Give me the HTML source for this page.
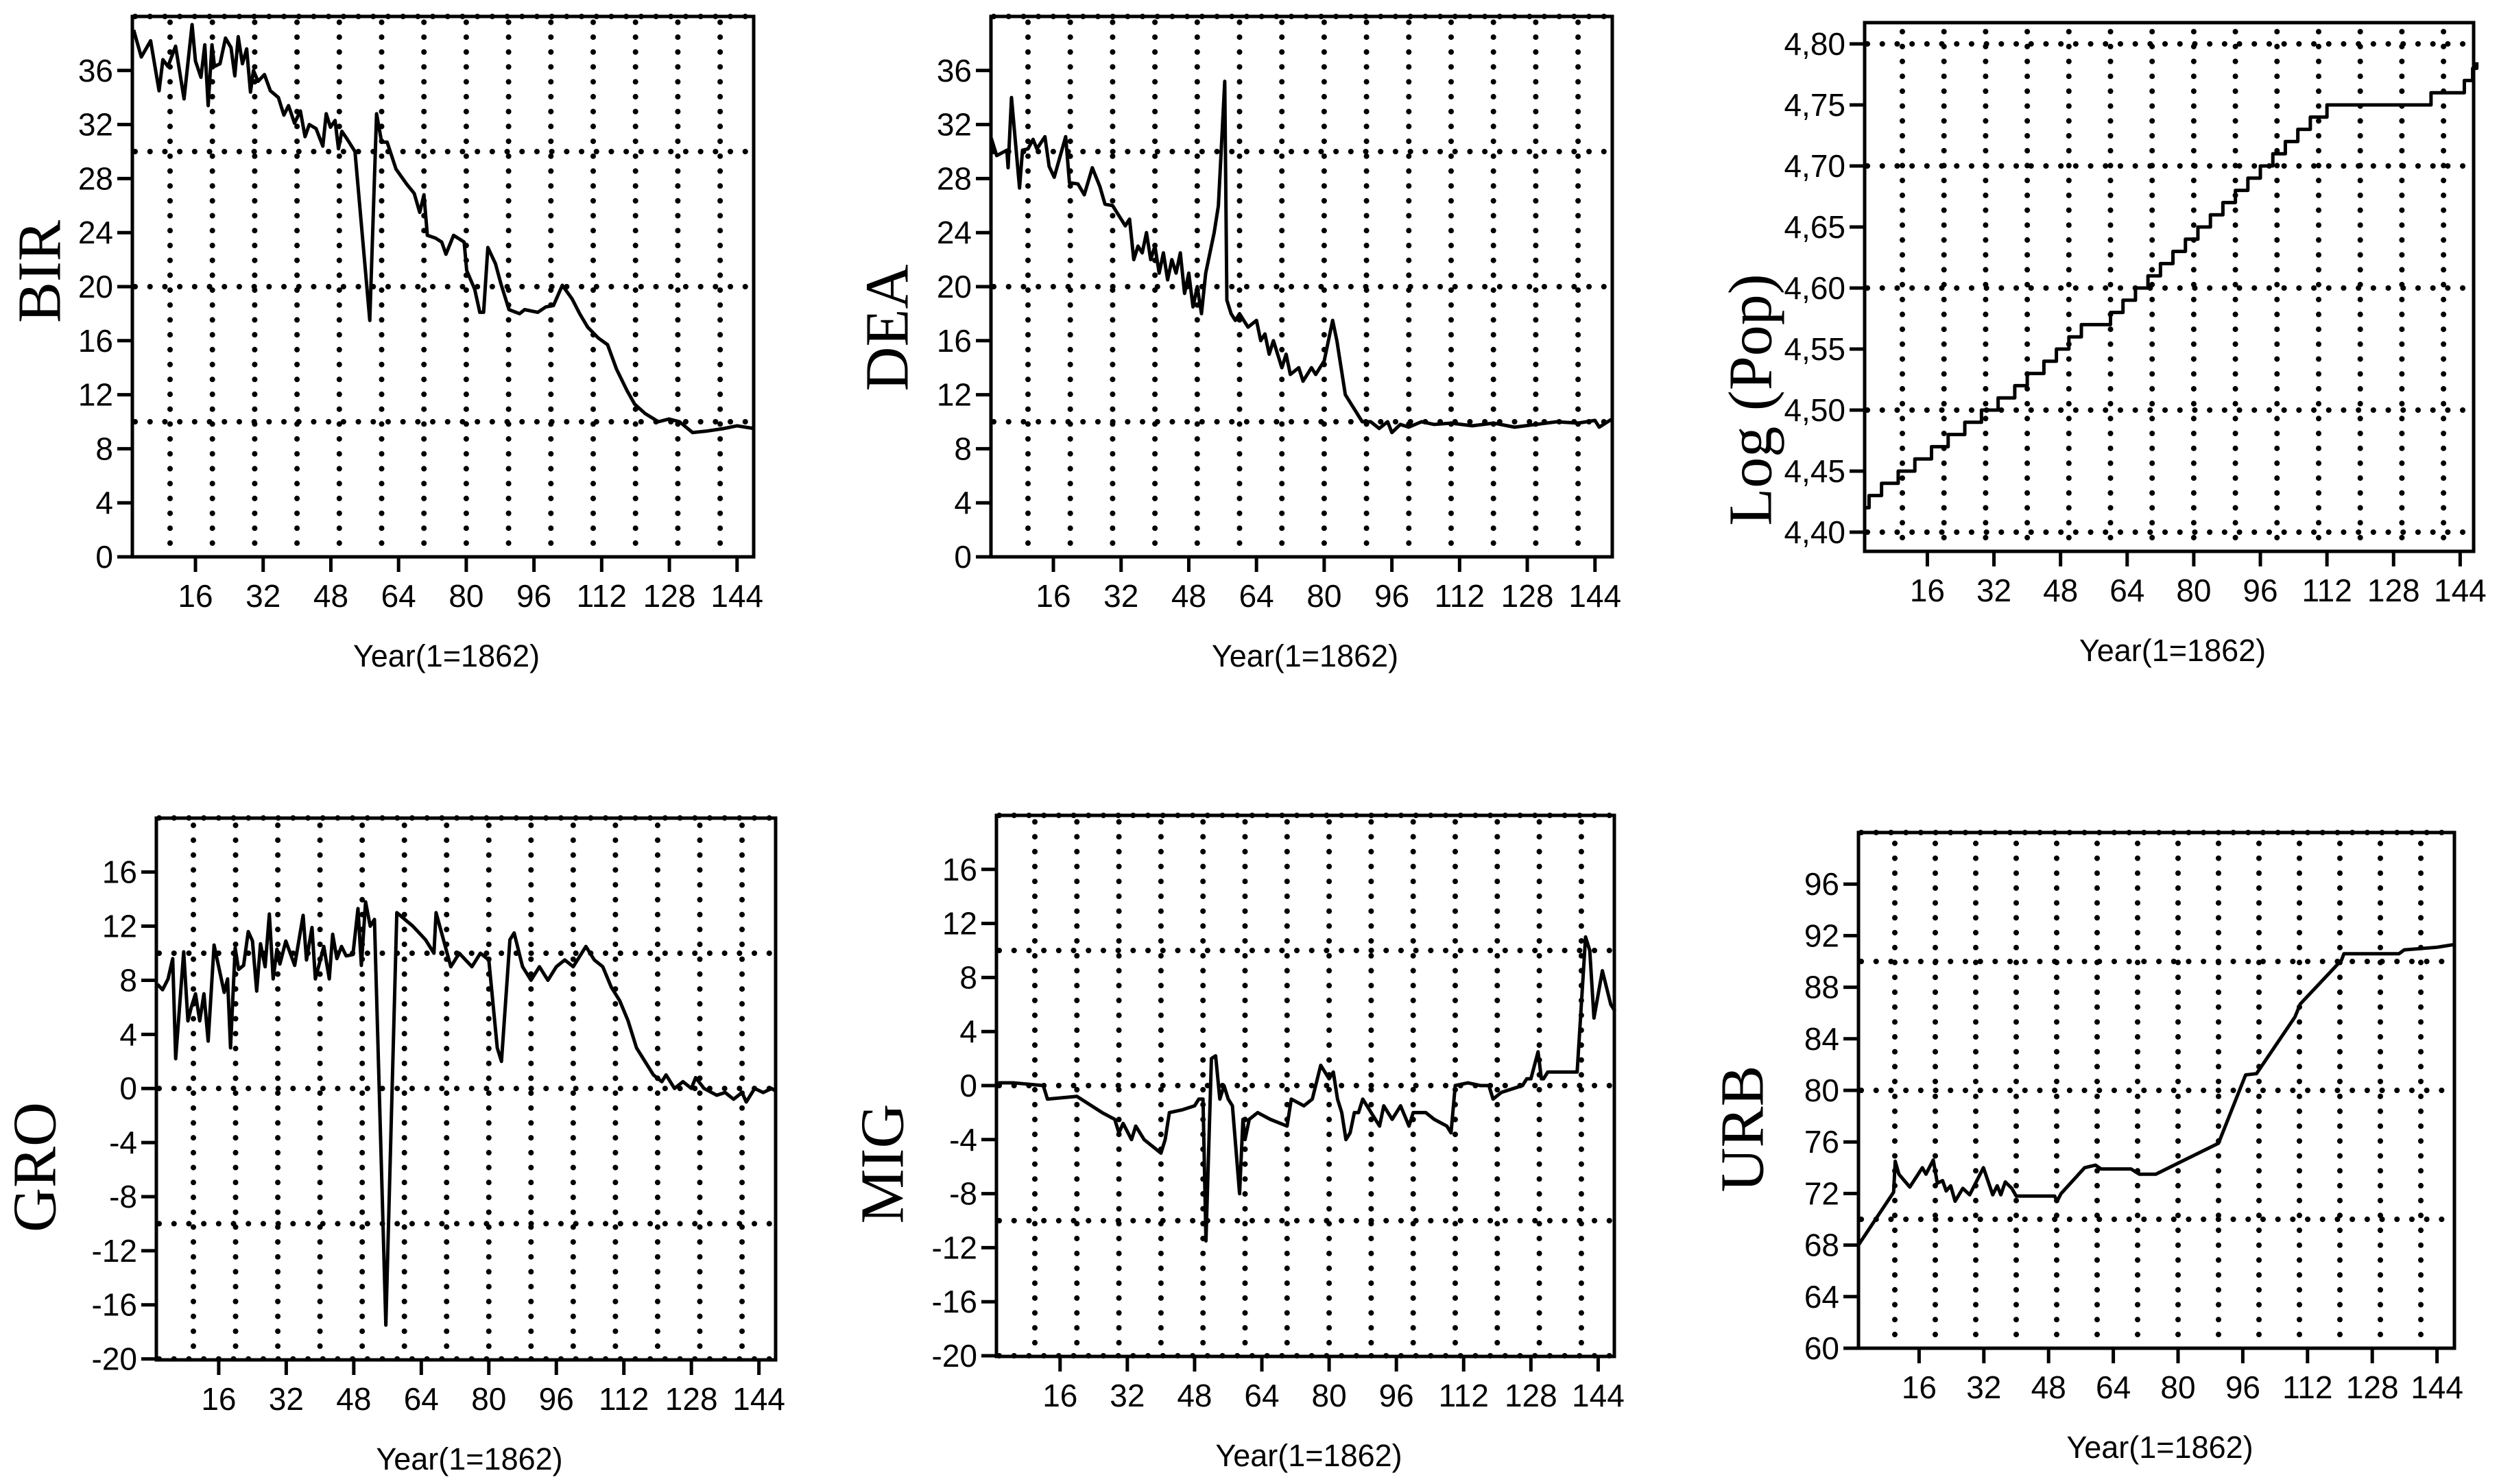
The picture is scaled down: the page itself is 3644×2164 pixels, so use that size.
<!DOCTYPE html>
<html><head><meta charset="utf-8"><style>
html,body{margin:0;padding:0;background:#fff;}
svg{display:block;}
</style></head>
<body>
<svg id="fig" xmlns="http://www.w3.org/2000/svg" width="3644" height="2164" viewBox="0 0 3644 2164"></svg>
<script>
// ---- data ----
const birYears=[1.4,2.2,3.2,5.4,7.4,8.3,9.5,11.3,13.3,15.2,16,17.3,18.2,19,19.9,20.5,21.8,23.1,24.4,25.3,26.1,27.1,28.1,29,29.7,30.8,32.3,33.7,35.6,36.9,38,39.4,40.8,41.9,42.9,44.5,46.1,46.9,47.9,49,49.8,50.6,51.9,53.7,57.2,58.8,60,61.3,63.4,65.9,67.7,69,70,70.8,72.7,74.2,75.2,77,79.5,80.1,82,83.2,84.1,85.1,86.9,88.2,90.1,92.6,93.8,96.9,98.8,100.6,102.7,105,106.8,108.7,111.2,113.4,115.5,118,119.8,122.3,125.4,127.9,130.4,133.5,136.6,140.9,144,148];
const birValues=[39,38.1,37,38.2,34.5,36.8,36.3,37.8,33.9,39.4,36.7,35.5,37.9,33.4,37.9,36.3,36.5,38.4,37.7,35.6,38.5,36.5,37.6,34.4,36,35.2,35.7,34.5,34,32.7,33.4,32.1,33,31.1,32,31.7,30.4,32.8,31.8,32.3,30.2,31.5,30.9,30,17.5,32.8,30.7,30.7,28.7,27.6,26.9,25.5,26.8,23.8,23.6,23.3,22.4,23.8,23.3,21.2,19.8,18.1,18.1,22.9,21.7,20.2,18.3,18,18.3,18.1,18.5,18.6,20.1,19.1,18,17,16.2,15.7,13.9,12.3,11.3,10.6,10,10.2,10,9.2,9.3,9.5,9.7,9.5];

const deaYears=[1.3,2.6,5,5.3,6.1,8,8.7,10,11.2,12.1,14,15,16.2,18.9,19.8,21.8,23.3,25.2,27,28.2,30,31,33,34,35,36,37,38,39,40,41,42,43,44,45,46,47,48,49,50,51,52,53,54,55,56.5,57,58,59,60,62,64,65,66,67,68,70,71,72,74,75,77,78,80,82,83,85,87,89,91,93,95,96,98,100,103,106,110,115,120,125,130,135,140,144,145,147,148];
const deaValues=[31,29.7,30.1,28.8,34,27.3,30.1,30.2,30.9,30.2,31.1,28.9,28.1,31.1,27.7,27.6,26.8,28.8,27.4,26.1,26,25.5,24.5,25,22,23,22.5,24,22,23,21,22.5,20.5,22,21,22.5,19.5,21,18.5,20,18,21,22.5,24,26,35.2,19,18,17.5,18,17,17.5,16,16.5,15,16,14,15,13.5,14,13,14,13.5,14.5,17.5,16,12,11,10,10,9.5,10,9.2,9.8,9.6,10,9.8,9.9,9.7,9.9,9.6,9.8,10,9.9,10.1,9.6,10,10.2];

const popStepYears=[1.3,2,5,9,13,17,21,25,29,33,37,40,44,47,50,53,60,63,66,69,72,75,78,81,84,87,90,93,96,99,102,105,108,112,137,145,147,148];
const popStepValues=[4.42,4.43,4.44,4.45,4.46,4.47,4.48,4.49,4.50,4.51,4.52,4.53,4.54,4.55,4.56,4.57,4.58,4.59,4.60,4.61,4.62,4.63,4.64,4.65,4.66,4.67,4.68,4.69,4.70,4.71,4.72,4.73,4.74,4.75,4.76,4.77,4.78,4.785];

const groYears=[1.5,2.7,4,5.1,5.8,7.7,8.7,9.5,10.5,11.5,12.5,13.5,14.9,17.3,18.1,18.8,19.9,20.7,21.9,23,24,25,25.9,27,28,28.9,29.8,30.5,31.9,34,36,36.8,38.1,38.9,40.9,42.2,43,44,45.1,46.2,47.8,49,49.8,50.8,51.9,52.9,55.6,58.2,62,65,67,67.5,71,73,76,78,80,82,83,85,86,88,90,92,94,96,98,100,103,105,107,109,111,113,115,117,119,121,122,124,126,128,129,131,134,136,138,140,141,143,145,147,148];
const groValues=[7.7,7.3,8.1,9.6,2.2,10.1,5,6,7,5,7,3.5,10.6,7.1,8.1,3,10.4,8.8,9.1,11.6,10.9,7.2,10.7,9,12.9,8.1,10.3,9.2,10.9,9.1,12.8,9.5,11.9,8.1,10.5,8.1,11.4,9.6,10.5,9.8,9.9,13.3,9.1,13.8,12,12.5,-17.5,13,12,11,10,13,9,10,9,10,9.5,3,2,11,11.5,9,8,9,8,9,9.5,9,10.5,9.5,9,7.5,6.5,5,3,2,1,0.5,1,0,0.5,0,0.8,0,-0.5,-0.3,-0.8,-0.3,-1,0,-0.3,0,-0.2];

const migYears=[1.3,5,12,13,20,22,26,29,30,31,33,34,36,38,40,41,42,45,48,49,50,50.7,52,53,54,55,56,57,58.7,59.5,60,61,63,66,70,71,74,76,78,80,81,82,83,84,85,86,87,88,90,92,93,95,97,99,100,103,105,108,109,110,113,116,118,119,121,124,126,127,128,129.7,130.5,131,132,136,138,139,141,142,143,145,147,148];
const migValues=[0.2,0.2,0,-1,-0.8,-1.2,-2,-2.5,-3.5,-2.8,-4,-3,-4,-4.5,-5,-4,-2,-1.8,-1.5,-1,-1,-11.5,2,2.2,-1,0,-1,-1.5,-8,-2.5,-4,-2.5,-2,-2.5,-3,-1,-1.5,-1,1.5,0.5,1,-1,-2,-4,-3.5,-2,-2,-1,-2,-3,-1.5,-2.5,-1.5,-3,-2,-2,-2.5,-3,-3.5,0,0.2,0,0,-1,-0.5,-0.2,0,0.5,0.5,2.5,0.5,0.5,1,1,1,1,11,10,5,8.5,6,5.5];

const urbYears=[1,9.7,10.1,11,13.7,16.8,17.7,19.5,20.5,21.8,22.7,23.8,24.9,26.8,28.5,31.9,34.2,35.3,36.2,37.3,38.9,40,42.7,49.5,50.1,51.1,56.9,59.6,61,68.4,70.4,74.5,90,96.7,99.4,108.9,110.2,120.4,121,134.6,135.9,144,148];
const urbValues=[68,72.1,74.5,73.5,72.5,74,73.5,74.6,72.8,73,72.2,72.6,71.4,72.4,71.9,74,71.9,72.6,71.9,72.9,72.4,71.8,71.8,71.8,71.4,72,74,74.2,73.9,73.9,73.5,73.5,75.9,81.2,81.3,85.7,86.7,90.1,90.6,90.6,90.9,91.1,91.3];

const xTickLabels=[16,32,48,64,80,96,112,128,144];
const xGridValues=[10,20,30,40,50,60,70,80,90,100,110,120,130,140];
const birTicks=[0,4,8,12,16,20,24,28,32,36];
const groTicks=[-20,-16,-12,-8,-4,0,4,8,12,16];
const popTicks=[4.40,4.45,4.50,4.55,4.60,4.65,4.70,4.75,4.80];
const urbTicks=[60,64,68,72,76,80,84,88,92,96];

// ---- layout (geometry only) ----
const panels=[
 {id:'bir',title:'BIR',tx:58,ty:396,x10:248,kx:6.17,left:193,right:1099,top:24,bottom:812,vref:0,yref:812,ky:19.7,vmin:0,vmax:40,
  ticks:birTicks,fmt:v=>String(v),hgrid:[10,20,30,40],years:birYears,vals:birValues,step:false},
 {id:'dea',title:'DEA',tx:1294,ty:478,x10:1499,kx:6.17,left:1445,right:2351,top:24,bottom:812,vref:0,yref:812,ky:19.7,vmin:0,vmax:40,
  ticks:birTicks,fmt:v=>String(v),hgrid:[10,20,30,40],years:deaYears,vals:deaValues,step:false},
 {id:'pop',title:'Log (Pop)',tx:2553,ty:583,x10:2774,kx:6.07,left:2719,right:3607,top:33,bottom:804,vref:4.40,yref:776,ky:1780,vmin:4.384,vmax:4.817,
  ticks:popTicks,fmt:v=>v.toFixed(2).replace('.',','),hgrid:[4.4,4.5,4.6,4.7,4.8],years:popStepYears,vals:popStepValues,step:true},
 {id:'gro',title:'GRO',tx:51,ty:1702,x10:282,kx:6.154,left:228,right:1131,top:1193,bottom:1983,vref:10,yref:1390,ky:19.72,vmin:-20,vmax:20,
  ticks:groTicks,fmt:v=>String(v),hgrid:[-20,-10,0,10,20],years:groYears,vals:groValues,step:false},
 {id:'mig',title:'MIG',tx:1287,ty:1697,x10:1509,kx:6.13,left:1453,right:2354,top:1189,bottom:1978,vref:10,yref:1386,ky:19.7,vmin:-20,vmax:20,
  ticks:groTicks,fmt:v=>String(v),hgrid:[-20,-10,0,10,20],years:migYears,vals:migValues,step:false},
 {id:'urb',title:'URB',tx:2541,ty:1646,x10:2763,kx:5.9,left:2710,right:3579,top:1214,bottom:1966,vref:60,yref:1966,ky:18.8,vmin:60,vmax:100,
  ticks:urbTicks,fmt:v=>String(v),hgrid:[70,80,90,100],years:urbYears,vals:urbValues,step:false}
];

const NS='http://www.w3.org/2000/svg';
const svg=document.getElementById('fig');
function mk(tag,attrs,parent){const e=document.createElementNS(NS,tag);for(const k in attrs)e.setAttribute(k,attrs[k]);parent.appendChild(e);return e;}

panels.forEach(p=>{
  const X=v=>p.x10+(v-10)*p.kx;
  const Y=v=>p.yref-(v-p.vref)*p.ky;
  const g=mk('g',{},svg);
  
  
  const dot={stroke:'#000','stroke-width':8,'stroke-linecap':'round','stroke-dasharray':'0.1 21.6',fill:'none'};
  // vertical grid
  xGridValues.forEach(v=>{
    const l=mk('line',Object.assign({x1:X(v),x2:X(v),y1:p.bottom-20,y2:p.top+4},dot),g);
    
    
  });
  // horizontal grid
  p.hgrid.forEach(v=>{
    const l=mk('line',Object.assign({x1:p.left+4,x2:p.right,y1:Y(v),y2:Y(v)},dot),g);
    
    
  });
  // frame
  const fr=mk('rect',{x:p.left,y:p.top,width:p.right-p.left,height:p.bottom-p.top,fill:'none',stroke:'#000','stroke-width':5},g);
  
  
  // y ticks
  p.ticks.forEach(v=>{
    const y=Y(v);
    const t=mk('line',{x1:p.left-22,x2:p.left,y1:y,y2:y,stroke:'#000','stroke-width':5},g);
    
    
    const tx=mk('text',{x:p.left-28,y:y+16,'text-anchor':'end','font-family':'Liberation Sans, Arial, sans-serif','font-size':46},g);
    tx.textContent=p.fmt(v);
    
    
  });
  // x ticks
  xTickLabels.forEach(v=>{
    const x=X(v);
    const t=mk('line',{x1:x,x2:x,y1:p.bottom,y2:p.bottom+22,stroke:'#000','stroke-width':5},g);
    
    
    const tx=mk('text',{x:x,y:p.bottom+73,'text-anchor':'middle','font-family':'Liberation Sans, Arial, sans-serif','font-size':46},g);
    tx.textContent=String(v);
    
    
  });
  // x title
  const xt=mk('text',{x:(p.left+p.right)/2+5,y:p.bottom+160,'text-anchor':'middle','font-family':'Liberation Sans, Arial, sans-serif','font-size':45},g);
  xt.textContent='Year(1=1862)';
  
  
  // y title
  const yt=mk('text',{x:0,y:0,'text-anchor':'middle','dominant-baseline':'central','font-family':'Liberation Serif, Times New Roman, serif','font-size':90,transform:`translate(${p.tx},${p.ty}) rotate(-90)`},g);
  yt.textContent=p.title;
  
  
  // series
  let d='';
  p.years.forEach((yr,i)=>{
    const x=X(yr),y=Y(p.vals[i]);
    if(i===0){d+='M'+x+' '+y;}
    else if(p.step){d+=' H'+x+' V'+y;}
    else{d+=' L'+x+' '+y;}
  });
  const ln=mk('path',{d:d,fill:'none',stroke:'#000','stroke-width':5,'stroke-linejoin':'round'},g);
  
  
});
</script>
</body></html>
